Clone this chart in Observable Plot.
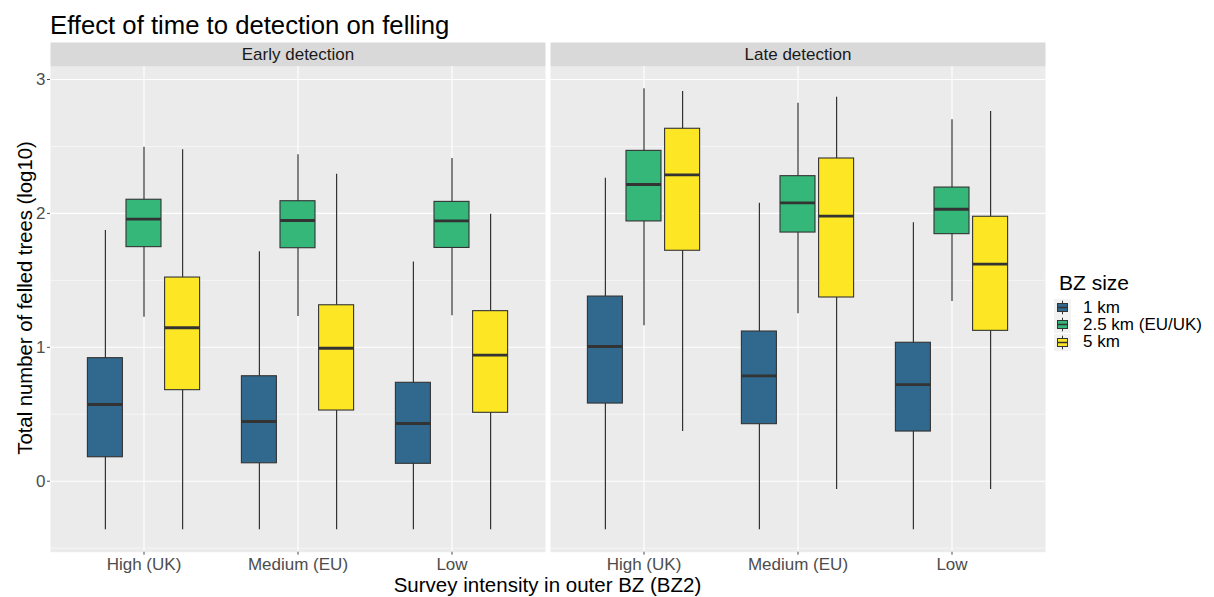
<!DOCTYPE html>
<html>
<head>
<meta charset="utf-8">
<script src="https://cdn.jsdelivr.net/npm/d3@7"></script>
<script src="https://cdn.jsdelivr.net/npm/@observablehq/plot@0.6"></script>
<style>
  body { margin: 0; background: #fff; font-family: "Liberation Sans", Arial, sans-serif; }
  #wrap { position: relative; width: 1214px; height: 597px; overflow: hidden; }
  #title { position: absolute; left: 50px; top: 13px; font-size: 25.7px; line-height: 1; color: #000; white-space: nowrap; }
  #chart { position: absolute; left: 0; top: 40px; }
  #xtitle { position: absolute; left: 0; width: 1095px; top: 576.6px; text-align: center; font-size: 20.5px; line-height: 0.8; color: #000; white-space: nowrap; }
  #ytitle { position: absolute; left: 25px; top: 298px; transform: translate(-50%, -50%) rotate(-90deg); font-size: 20.3px; line-height: 0.9; color: #000; white-space: nowrap; }
  #legend { position: absolute; left: 1054px; top: 272px; color: #000; }
  #legend .lt { font-size: 21px; line-height: 1; margin-left: 5px; margin-bottom: 6px; white-space: nowrap; }
  #legend .row { display: flex; align-items: center; height: 17.3px; }
  #legend .row span { font-size: 17px; margin-left: 12px; white-space: nowrap; }
</style>
</head>
<body>
<div id="wrap">
  <div id="title">Effect of time to detection on felling</div>
  <div id="chart"></div>
  <div id="ytitle">Total number of felled trees (log10)</div>
  <div id="xtitle">Survey intensity in outer BZ (BZ2)</div>
  <div id="legend"></div>
</div>
<script>
// ---- data ----
const detections = ["Early detection", "Late detection"];
const intensities = ["High (UK)", "Medium (EU)", "Low"];
const sizes = ["1 km", "2.5 km (EU/UK)", "5 km"];
const colors = ["#31688E", "#35B779", "#FDE725"];
const yTicks = [0, 1, 2, 3];
const yMinorTicks = [-0.5, 0.5, 1.5, 2.5];

// order: detection x intensity x size
const wMax = [1.872, 2.494, 2.475, 1.713, 2.438, 2.293, 1.637, 2.410, 1.994,
              2.263, 2.931, 2.910, 2.076, 2.823, 2.868, 1.930, 2.699, 2.761];
const q3   = [0.919, 2.102, 1.521, 0.784, 2.091, 1.314, 0.735, 2.086, 1.270,
              1.379, 2.467, 2.632, 1.118, 2.278, 2.410, 1.034, 2.193, 1.975];
const med  = [0.573, 1.957, 1.146, 0.446, 1.947, 0.993, 0.431, 1.944, 0.941,
              1.006, 2.216, 2.288, 0.787, 2.079, 1.979, 0.722, 2.031, 1.621];
const q1   = [0.179, 1.748, 0.680, 0.134, 1.740, 0.528, 0.130, 1.742, 0.511,
              0.580, 1.940, 1.721, 0.426, 1.857, 1.372, 0.371, 1.845, 1.123];
const wMin = [-0.363, 1.225, -0.363, -0.363, 1.230, -0.363, -0.363, 1.235, -0.363,
              -0.363, 1.161, 0.371, -0.363, 1.250, -0.062, -0.363, 1.342, -0.062];

const rows = [];
let k = 0;
for (const d of detections) for (const it of intensities) for (const s of sizes) {
  rows.push({detection: d, intensity: it, size: s, min: wMin[k], q1: q1[k], med: med[k], q3: q3[k], max: wMax[k]});
  k++;
}

// ---- layout ----
const W = 1214, H = 535, mT = 26, mB = 23.3, mL = 50, mR = 169;
const panelH = H - mT - mB;
const dodge = [-38.6, 0, 38.6];
const ink = "#333333";

const boxMarks = sizes.flatMap((s, i) => {
  const data = rows.filter(r => r.size === s);
  return [
    Plot.ruleX(data, {x: "intensity", fx: "detection", y1: "min", y2: "max", dx: dodge[i], stroke: ink, strokeWidth: 1.2}),
    Plot.barY(data, {x: "intensity", fx: "detection", y1: "q1", y2: "q3", dx: dodge[i], fill: "size", stroke: ink, strokeWidth: 1.1}),
    Plot.tickY(data, {x: "intensity", fx: "detection", y: "med", dx: dodge[i], stroke: ink, strokeWidth: 2.8})
  ];
});

const chart = Plot.plot({
  width: W, height: H,
  marginTop: mT, marginBottom: mB, marginLeft: mL, marginRight: mR,
  style: {fontFamily: "'Liberation Sans', Arial, sans-serif", background: "transparent", overflow: "visible"},
  fx: {domain: detections, paddingInner: 0.01, paddingOuter: 0, axis: null, label: null},
  x: {domain: intensities, paddingInner: 0.773, paddingOuter: 0.4865, label: null},
  y: {domain: [-0.530, 3.097], label: null},
  color: {domain: sizes, range: colors},
  marks: [
    Plot.frame({fill: "#EBEBEB"}),
    Plot.frame({fill: "#D9D9D9", insetTop: -24, insetBottom: panelH}),
    Plot.gridY({ticks: yMinorTicks, stroke: "#fff", strokeOpacity: 1, strokeWidth: 0.55}),
    Plot.gridY({ticks: yTicks, stroke: "#fff", strokeOpacity: 1, strokeWidth: 1.1}),
    Plot.gridX({stroke: "#fff", strokeOpacity: 1, strokeWidth: 1.1}),
    Plot.text(detections, {fx: d => d, text: d => d, frameAnchor: "top", lineAnchor: "middle", dy: -12, fontSize: 17, fill: "#1A1A1A"}),
    ...boxMarks,
    Plot.axisY({ticks: yTicks, tickFormat: d3.format("d"), tickSize: 3, tickPadding: 2, fontSize: 17, color: "#4D4D4D", label: null}),
    Plot.axisX({tickSize: 3, tickPadding: 3, fontSize: 17, color: "#4D4D4D", label: null})
  ]
});
document.getElementById("chart").appendChild(chart);

// ---- legend ----
const leg = document.getElementById("legend");
const lt = document.createElement("div");
lt.className = "lt";
lt.textContent = "BZ size";
leg.appendChild(lt);
sizes.forEach((s, i) => {
  const row = document.createElement("div");
  row.className = "row";
  row.innerHTML = `<svg width="17" height="17" viewBox="0 0 17 17">
    <rect x="0" y="0" width="17" height="17" fill="#F2F2F2"/>
    <line x1="8.5" x2="8.5" y1="1.7" y2="15.3" stroke="${ink}" stroke-width="1"/>
    <rect x="3.5" y="4.5" width="10" height="8" fill="${colors[i]}" stroke="${ink}" stroke-width="1"/>
    <line x1="3.5" x2="13.5" y1="8.5" y2="8.5" stroke="${ink}" stroke-width="1.5"/>
  </svg><span>${s}</span>`;
  leg.appendChild(row);
});
</script>
</body>
</html>
